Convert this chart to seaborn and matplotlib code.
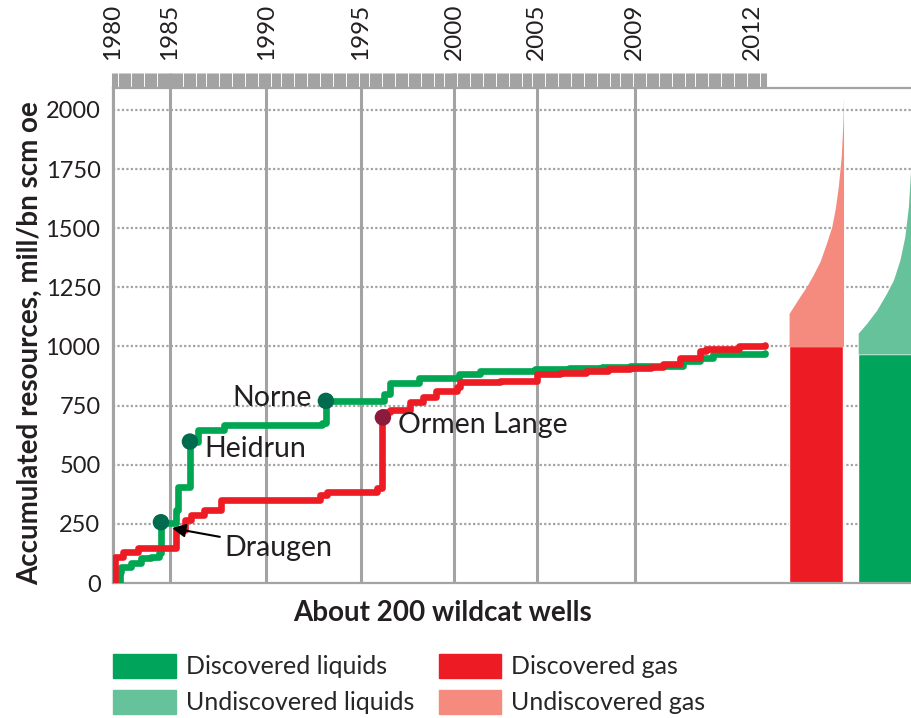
import matplotlib
matplotlib.use('Agg')
import numpy as np
import pandas as pd
import matplotlib.pyplot as plt
from matplotlib.patches import Patch
import seaborn as sns

# DATA
# x = wildcat well number, y = accumulated discovered resources (mill scm oe)
gas_wells = [0, 0.5, 3, 7.7, 19.3, 22, 24, 28, 33, 63.5, 65.6, 81, 82.5, 85, 91, 95,
             99, 105.4, 106.4, 118.7, 130, 137, 145, 152, 158.6, 165, 168.7, 174,
             180, 182, 192, 200]
gas_vals = [0, 110, 130, 150, 225, 265, 287, 308, 350, 370, 383, 400, 725, 730, 764, 785,
            813, 827, 848, 855, 885, 890, 897, 903, 908, 915, 927, 952,
            982, 990, 1000, 1005]
liq_wells = [0, 2, 2.5, 5.5, 8.6, 11.6, 14, 14.7, 19.3, 20, 23.6, 26, 34, 64, 65.3,
             83, 85, 94, 106, 112.6, 129.4, 140, 150, 158.6, 170, 175, 180, 184, 200]
liq_vals = [0, 45, 67, 84, 105, 110, 126, 255, 307, 405, 598, 645, 666, 675, 770,
            800, 847, 868, 882, 896, 905, 910, 913, 916, 918, 940, 952, 969, 972]

# named fields marked on the curves
field_names = ['Draugen', 'Heidrun', 'Norne', 'Ormen Lange']
field_wells = [14.7, 23.6, 65.3, 82.8]
field_vals = [257, 598, 770, 700]
field_type = ['liquids', 'liquids', 'liquids', 'gas']

# year labels on the top axis (well number where each year starts)
years = ['1980', '1985', '1990', '1995', '2000', '2005', '2009', '2012']
year_wells = [0, 17.5, 47, 76, 104.6, 130, 160, 196]

# totals: discovered (solid) and undiscovered (pale wedge upper edge)
gas_discovered = 1000
liq_discovered = 968
gas_und_wells = [207.4, 208.7, 210.7, 212.8, 214.8, 216.9, 218.9, 220.5, 221.5,
                 222.5, 223.4, 223.9, 224.1]
gas_und_top = [1140, 1168, 1211, 1254, 1303, 1360, 1438, 1507, 1578,
               1677, 1803, 1944, 2056]
liq_und_wells = [228.6, 231.2, 234.3, 237.3, 239.4, 241.4, 242.9, 244.0, 244.8]
liq_und_top = [1056, 1098, 1154, 1225, 1281, 1366, 1464, 1591, 1775]

yticks = [0, 250, 500, 750, 1000, 1250, 1500, 1750, 2000]

df_gas = pd.DataFrame({'well': gas_wells, 'res': gas_vals})
df_liq = pd.DataFrame({'well': liq_wells, 'res': liq_vals})
df_fields = pd.DataFrame({'well': field_wells, 'res': field_vals,
                          'name': field_names, 'type': field_type})

# colours
c_liq = '#00a651'
c_liq_bar = '#00a45a'
c_liq_pale = '#66c29b'
c_gas = '#ed1c24'
c_gas_pale = '#f58b7e'
c_grid = '#a3a3a3'
c_text = '#231f20'

# PLOTTING
sns.set_style('white')
plt.rcParams['font.family'] = ['Lato', 'DejaVu Sans']

fig = plt.figure(figsize=(9.11, 7.18), dpi=100)
ax = fig.add_axes([113 / 911, 135 / 718, 798 / 911, 495 / 718])

# gridlines: dotted horizontal, solid vertical at year starts (not 2012)
for yv in yticks[1:]:
    ax.axhline(yv, color=c_grid, lw=1.6, ls=(0, (1, 1)), zorder=0)
for w, yr in zip(year_wells, years):
    if yr != '2012':
        ax.axvline(w, color=c_grid, lw=2.2, zorder=0)

# accumulated discovery curves
sns.lineplot(data=df_liq, x='well', y='res', color=c_liq, lw=4.8,
             drawstyle='steps-post', ax=ax, zorder=3)
sns.lineplot(data=df_gas, x='well', y='res', color=c_gas, lw=4.8,
             drawstyle='steps-post', ax=ax, zorder=4)
sns.scatterplot(data=df_fields, x='well', y='res', hue='type',
                palette={'liquids': '#006b4f', 'gas': '#8c1a3c'},
                s=140, edgecolor='none', legend=False, ax=ax, zorder=5)

# discovered / undiscovered totals on the right
ax.bar(215.7, gas_discovered, width=16.6, color=c_gas, zorder=2)
ax.bar(236.8, liq_discovered, width=16.6, color=c_liq_bar, zorder=2)
ax.fill_between(gas_und_wells, gas_discovered, gas_und_top, color=c_gas_pale,
                lw=0, zorder=2)
ax.fill_between(liq_und_wells, liq_discovered, liq_und_top, color=c_liq_pale,
                lw=0, zorder=2)

# field labels
fs = 20.5
ax.text(60.9, 782, 'Norne', ha='right', va='center', fontsize=fs, color=c_text, zorder=6)
ax.text(28.0, 565, 'Heidrun', ha='left', va='center', fontsize=fs, color=c_text, zorder=6)
ax.text(87.5, 670, 'Ormen Lange', ha='left', va='center', fontsize=fs, color=c_text, zorder=6)
ax.annotate('Draugen', xy=(18.1, 232), xytext=(34.2, 150), ha='left', va='center',
            fontsize=fs, color=c_text, zorder=6,
            arrowprops=dict(arrowstyle='-|>', color='black', lw=1.5,
                            mutation_scale=20, shrinkA=1, shrinkB=0))

# axes limits and ticks
ax.set_xlim(0, 244.8)
ax.set_ylim(0, 2093)
ax.set_yticks(yticks)
ax.set_yticklabels([str(v) for v in yticks], fontsize=17, color=c_text)
ax.tick_params(axis='y', length=5, width=1.5, color=c_grid, pad=4)

ax.set_xticks(year_wells)
ax.set_xticklabels(years, rotation=90, fontsize=17.5, color=c_text)
ax.set_xticks(np.arange(0, 201), minor=True)
ax.tick_params(axis='x', which='both', bottom=False, top=True,
               labelbottom=False, labeltop=True, direction='out',
               length=11, width=2.2, color=c_grid, pad=9)

for side in ['left', 'bottom', 'top']:
    ax.spines[side].set_color(c_grid)
    ax.spines[side].set_linewidth(1.6)
ax.spines['right'].set_visible(False)

ax.set_xlabel('About 200 wildcat wells', fontsize=20, fontweight='bold',
              color=c_text)
ax.xaxis.set_label_coords((443 - 113) / 798, -0.035)
ax.set_ylabel('Accumulated resources, mill/bn scm oe', fontsize=20,
              fontweight='bold', color=c_text)
ax.yaxis.set_label_coords(-0.088, 0.485)

# legend
handles = [Patch(color=c_liq_bar), Patch(color=c_liq_pale),
           Patch(color=c_gas), Patch(color=c_gas_pale)]
labels = ['Discovered liquids', 'Undiscovered liquids',
          'Discovered gas', 'Undiscovered gas']
fig.legend(handles, labels, loc='upper left', bbox_to_anchor=(113 / 911, 1 - 654 / 718),
           ncol=2, frameon=False, fontsize=18, handlelength=2.5, handleheight=1.1,
           handletextpad=0.4, columnspacing=1.0, labelspacing=0.45,
           borderpad=0, borderaxespad=0)

fig.savefig('out.png', dpi=100)
